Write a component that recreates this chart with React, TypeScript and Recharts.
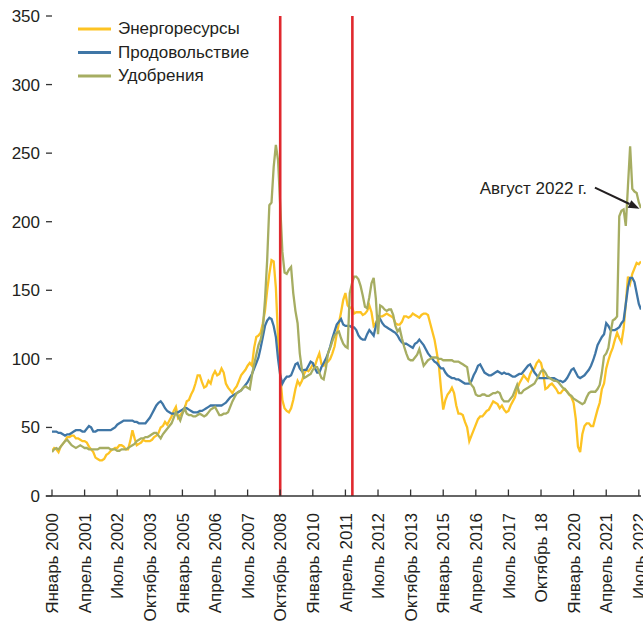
import React from 'react';
import { LineChart, Line, XAxis, YAxis, ReferenceLine, Legend } from 'recharts';

const FONT = '"Liberation Sans", Arial, Helvetica, sans-serif';
const TEXT = '#231F20';
const AXIS = '#333333';

// x ticks: month index from January 2000
const tickMonths = [0, 15, 30, 45, 60, 75, 90, 105, 120, 135, 150, 165, 180, 195, 210, 225, 240, 255, 270];
const tickLabels = [
  'Январь 2000', 'Апрель 2001', 'Июль 2002', 'Октябрь 2003', 'Январь 2005', 'Апрель 2006',
  'Июль 2007', 'Октябрь 2008', 'Январь 2010', 'Апрель 2011', 'Июль 2012', 'Октябрь 2013',
  'Январь 2015', 'Апрель 2016', 'Июль 2017', 'Октябрь 18', 'Январь 2020', 'Апрель 2021', 'Июль 2022',
];
const yTicks = [0, 50, 100, 150, 200, 250, 300, 350];

const seriesNames = ['Энергоресурсы', 'Продовольствие', 'Удобрения'];
const seriesKeys = ['energy', 'food', 'fert'];
const seriesColors = ['#FDC323', '#3F76A6', '#A6AD62'];

// Monthly values, Jan 2000 – Aug 2022
const energy = [
  33, 35, 34, 32, 36, 38, 40, 43, 43, 44, 44, 42,
  42, 41, 40, 40, 39, 36, 34, 32, 28, 27, 26, 26,
  27, 30, 31, 33, 34, 35, 35, 37, 37, 36, 34, 34,
  40, 48, 42, 37, 38, 39, 41, 40, 40, 40, 41, 43,
  44, 46, 50, 51, 54, 52, 55, 58, 62, 65, 57, 59,
  61, 64, 69, 70, 74, 77, 82, 88, 88, 83, 79, 80,
  84, 82, 88, 91, 88, 89, 93, 90, 82, 79, 77, 75,
  78, 80, 84, 88, 90, 92, 95, 97, 95, 108, 116, 117,
  119, 126, 135, 150, 162, 172, 171, 152, 115, 88, 70, 64,
  62, 61, 64, 70, 78, 84, 81, 84, 89, 92, 91, 93,
  96, 95, 100, 104, 96, 95, 97, 98, 100, 104, 109, 118,
  126, 134, 143, 148, 139, 137, 138, 133, 134, 134, 134, 132,
  133, 135, 139, 134, 124, 126, 130, 131, 131, 132, 133, 132,
  131, 130, 126, 125, 125, 127, 131, 131, 130, 131, 133, 132,
  131, 130, 132, 133, 133, 132, 126, 120, 114, 105, 95, 78,
  63, 70, 74, 76, 79, 75, 66, 60, 60, 59, 54, 50,
  40, 44, 48, 52, 56, 58, 58, 60, 62, 63, 66, 69,
  68, 67, 64, 66, 63, 61, 62, 66, 69, 72, 78, 82,
  85, 88, 86, 84, 89, 92, 93, 97, 99, 97, 90, 78,
  79, 81, 82, 80, 78, 75, 75, 77, 78, 76, 74, 72,
  68, 56, 36, 32, 45, 51, 53, 53, 51, 51, 57, 63,
  68, 78, 82, 93, 99, 104, 108, 114, 119, 115, 112, 122,
  140, 160, 155, 162, 166, 170, 169, 171,
];

const food = [
  47, 47, 47, 46, 46, 45, 44, 45, 45, 46, 47, 48,
  48, 48, 47, 47, 49, 51, 50, 47, 47, 48, 48, 48,
  48, 48, 48, 48, 49, 50, 52, 53, 54, 55, 55, 55,
  55, 55, 54, 54, 53, 53, 53, 53, 55, 57, 60, 63,
  66, 68, 69, 67, 64, 62, 61, 60, 60, 60, 61, 62,
  63, 64, 64, 63, 62, 61, 61, 61, 62, 62, 63, 64,
  65, 66, 66, 66, 66, 66, 66, 67, 68, 70, 72, 73,
  74, 75, 76, 77, 79, 81, 83, 86, 89, 93, 97, 101,
  108, 116, 124, 128, 130, 129, 124, 116, 100, 88, 82, 85,
  87, 87, 88, 92, 96, 97, 93, 91, 92, 92, 95, 98,
  97, 93, 90, 90, 94, 97, 100, 104, 109, 115, 120, 125,
  127, 129, 125, 124, 124, 124, 123, 123, 121, 117, 115, 114,
  114, 118, 121, 119, 117, 124, 131, 129, 126, 124, 123, 122,
  121, 120, 119, 117, 114, 112, 111, 111, 110, 109, 108, 111,
  112, 114, 112, 110, 107, 104, 102, 100, 98, 97, 95, 93,
  93, 90, 88, 87, 86, 86, 85, 85, 84, 83, 82, 82,
  82, 84, 88, 91, 95, 96, 93, 90, 89, 88, 88, 89,
  90, 91, 90, 89, 90, 89, 89, 88, 87, 87, 88, 89,
  89, 91, 93, 95, 96, 93, 90, 88, 86, 86, 86, 86,
  86, 86, 86, 86, 85, 84, 84, 83, 84, 86, 89, 92,
  93, 90, 87, 86, 87, 88, 90, 92, 95, 99, 104, 110,
  113, 116, 118, 126, 124, 121, 121, 121, 122, 123, 126, 128,
  140, 152, 159, 159, 156, 148, 140, 136,
];

const fert = [
  32, 34, 35, 34, 36, 38, 40, 41, 39, 37, 36, 35,
  36, 37, 36, 35, 35, 34, 34, 34, 34, 34, 35, 35,
  35, 35, 35, 34, 34, 34, 33, 33, 34, 34, 34, 35,
  36, 37, 38, 40, 41, 42, 42, 43, 43, 44, 45, 46,
  46, 44, 42, 45, 47, 49, 51, 53, 57, 61, 58, 55,
  60, 64, 60, 59, 59, 58, 58, 59, 60, 59, 58, 59,
  61, 63, 64, 65, 62, 59, 59, 60, 60, 61, 65, 69,
  72, 75, 76, 77, 79, 80, 79, 78, 88, 96, 103, 110,
  114, 122, 143, 172, 212, 214, 240, 256, 245, 212, 178, 163,
  162, 165, 167, 148, 135, 126, 104, 92, 86, 87, 88, 89,
  92, 94, 94, 90, 86, 85, 93, 104, 108, 113, 117, 119,
  120, 115, 111, 109, 108, 148, 155, 160, 160, 158, 153, 146,
  138, 137, 145, 155, 159, 144, 118, 139, 138, 136, 135, 136,
  136, 132, 124, 120, 122, 115, 109, 104, 100, 99, 99, 101,
  103, 107, 101, 95, 97, 99, 100, 101, 101, 101, 100, 100,
  99, 99, 99, 99, 99, 98, 98, 98, 97, 96, 95, 94,
  84, 81, 79, 74, 73, 73, 74, 74, 73, 73, 74, 75,
  75, 76, 75, 71, 69, 69, 69, 71, 73, 77, 81, 75,
  75, 77, 78, 79, 80, 81, 82, 85, 88, 91, 92, 90,
  87, 86, 85, 84, 84, 83, 81, 79, 78, 76, 74, 73,
  71, 70, 69, 68, 67, 68, 72, 75, 76, 76, 76, 78,
  81, 90, 102, 104, 108, 119, 128, 129, 131, 204, 208, 209,
  197, 226, 255, 224, 222, 221, 214, 210,
];

// Vertical markers (month index) and annotation
const crisisMonths = [105, 138.2];
const annotationText = 'Август 2022 г.';
const annotationFrom = { x: 249.8, y: 224.8 };
const annotationTo = { x: 270.3, y: 209.5 };

const data = energy.map((v, i) => ({ t: i, energy: v, food: food[i], fert: fert[i] }));

const XTick = (props: any) => {
  const { x, y, payload } = props;
  const idx = tickMonths.indexOf(payload.value);
  const label = idx >= 0 ? tickLabels[idx] : '';
  return (
    <g>
      <line x1={x} x2={x} y1={y} y2={y - 6.5} stroke={AXIS} strokeWidth={1.3} />
      <text
        transform={`translate(${x},${y + 17}) rotate(-90)`}
        textAnchor="end"
        dy="0.36em"
        fontSize={17}
        fill={TEXT}
        fontFamily={FONT}
      >
        {label}
      </text>
    </g>
  );
};

const ArrowShape = (props: any) => {
  const { x1, y1, x2, y2 } = props;
  const dx = x2 - x1;
  const dy = y2 - y1;
  const len = Math.sqrt(dx * dx + dy * dy) || 1;
  const ux = dx / len;
  const uy = dy / len;
  const headL = 11;
  const headW = 4.2;
  const bx = x2 - ux * headL;
  const by = y2 - uy * headL;
  const pts = `${x2},${y2} ${bx - uy * headW},${by + ux * headW} ${bx + uy * headW},${by - ux * headW}`;
  return (
    <g>
      <line x1={x1} y1={y1} x2={bx} y2={by} stroke={TEXT} strokeWidth={2} />
      <polygon points={pts} fill={TEXT} />
      <text x={x1 - 8} y={y1 + 6} textAnchor="end" fontSize={17} fill={TEXT} fontFamily={FONT}>
        {annotationText}
      </text>
    </g>
  );
};

const LegendContent = () => (
  <svg width={300} height={90} style={{ display: 'block' }}>
    {seriesNames.map((name, i) => {
      const ly = 29 + i * 23.5;
      return (
        <g key={name}>
          <line x1={78} x2={111} y1={ly} y2={ly} stroke={seriesColors[i]} strokeWidth={3} />
          <text x={118} y={ly + 5} fontSize={17} fill={TEXT} fontFamily={FONT}>
            {name}
          </text>
        </g>
      );
    })}
  </svg>
);

export default function App() {
  return (
    <div
      style={{
        position: 'absolute',
        left: 0,
        top: 0,
        width: 643,
        height: 623,
        overflow: 'hidden',
        background: '#ffffff',
      }}
    >
      <LineChart width={643} height={623} data={data} margin={{ top: 16, right: 0, bottom: 0, left: 0 }}>
        <XAxis
          dataKey="t"
          type="number"
          domain={[0, 271]}
          allowDataOverflow
          ticks={tickMonths}
          interval={0}
          height={127}
          tickSize={0}
          tickMargin={0}
          tickLine={false}
          axisLine={{ stroke: AXIS, strokeWidth: 1.3 }}
          tick={<XTick />}
        />
        <YAxis
          yAxisId="left"
          orientation="left"
          width={52}
          domain={[0, 350]}
          ticks={yTicks}
          interval={0}
          axisLine={false}
          tickLine={{ stroke: AXIS, strokeWidth: 1.3 }}
          tickSize={6}
          tickMargin={6}
          tick={{ fontSize: 17, fill: TEXT, fontFamily: FONT }}
        />
        <YAxis
          yAxisId="right"
          orientation="right"
          width={2}
          domain={[0, 350]}
          ticks={yTicks}
          interval={0}
          axisLine={false}
          tickLine={{ stroke: AXIS, strokeWidth: 1.3 }}
          tickSize={6}
          tickMargin={6}
          tick={{ fontSize: 17, fill: TEXT, fontFamily: FONT }}
        />
        <Legend
          layout="vertical"
          align="center"
          verticalAlign="middle"
          wrapperStyle={{ left: 0, top: 0, width: 300, height: 90 }}
          content={<LegendContent />}
        />
        {seriesKeys.map((k, i) => (
          <Line
            key={k}
            yAxisId="left"
            type="linear"
            dataKey={k}
            name={seriesNames[i]}
            stroke={seriesColors[i]}
            strokeWidth={2.3}
            dot={false}
            activeDot={false}
            isAnimationActive={false}
          />
        ))}
        <ReferenceLine
          yAxisId="left"
          segment={[{ x: -2.9, y: 0 }, { x: 0, y: 0 }]}
          ifOverflow="visible"
          stroke={AXIS}
          strokeWidth={1.3}
        />
        {crisisMonths.map((m) => (
          <ReferenceLine key={m} yAxisId="left" x={m} stroke="#E0282E" strokeWidth={2.6} ifOverflow="visible" />
        ))}
        <ReferenceLine
          yAxisId="left"
          segment={[annotationFrom, annotationTo]}
          ifOverflow="visible"
          shape={<ArrowShape />}
        />
      </LineChart>
    </div>
  );
}
